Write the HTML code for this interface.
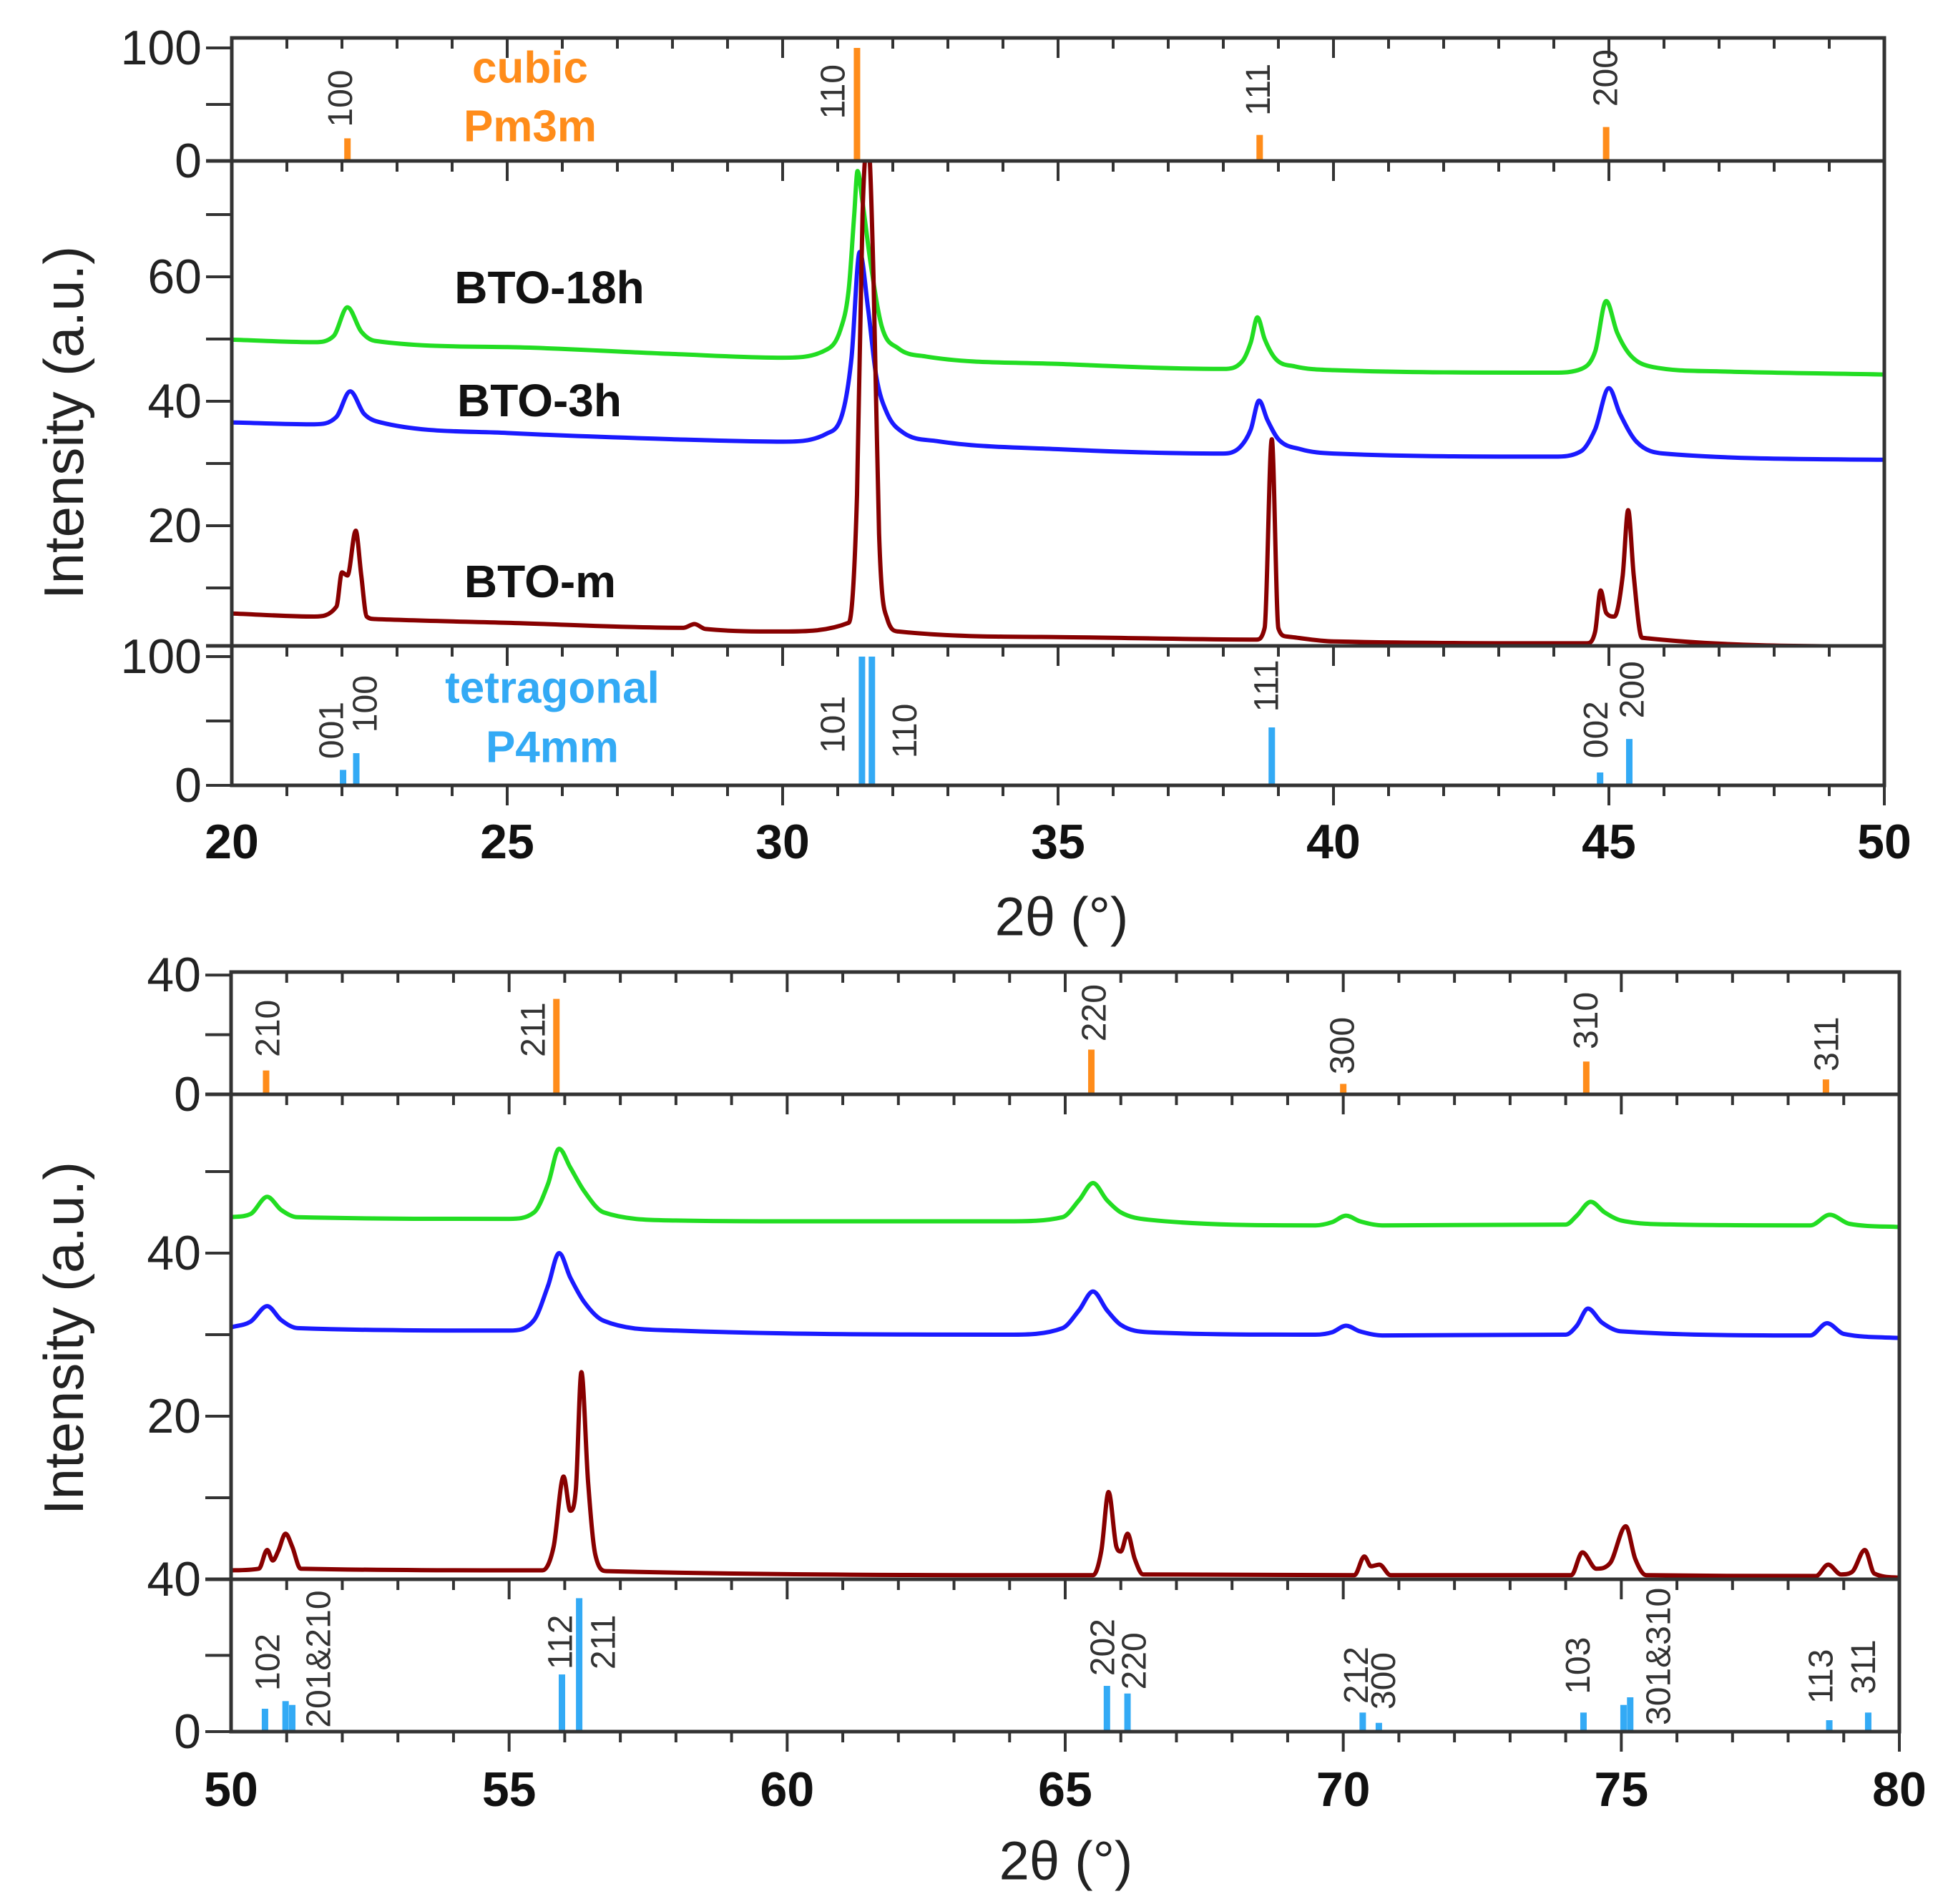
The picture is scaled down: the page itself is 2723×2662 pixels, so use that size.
<!DOCTYPE html>
<html><head><meta charset="utf-8"><style>
html,body{margin:0;padding:0;background:#fff;}
svg{display:block;font-family:"Liberation Sans",Arial,sans-serif;}
</style></head><body>
<svg id="chart" width="2723" height="2662" viewBox="0 0 2723 2662" xmlns="http://www.w3.org/2000/svg">
<rect width="2723" height="2662" fill="#fff"/>
<text x="89" y="591" font-size="78" fill="#222" text-anchor="middle" dominant-baseline="central" transform="rotate(-90 89 591)">Intensity (a.u.)</text>
<text x="89" y="1871" font-size="78" fill="#222" text-anchor="middle" dominant-baseline="central" transform="rotate(-90 89 1871)">Intensity (a.u.)</text>
<text x="1484" y="1282" font-size="76" fill="#222" text-anchor="middle" dominant-baseline="central">2θ (°)</text>
<text x="1490" y="2602" font-size="76" fill="#222" text-anchor="middle" dominant-baseline="central">2θ (°)</text>
<text x="768" y="402" font-size="64" font-weight="bold" fill="#111" text-anchor="middle" dominant-baseline="central">BTO-18h</text>
<text x="754" y="560" font-size="64" font-weight="bold" fill="#111" text-anchor="middle" dominant-baseline="central">BTO-3h</text>
<text x="755" y="813" font-size="64" font-weight="bold" fill="#111" text-anchor="middle" dominant-baseline="central">BTO-m</text>
<text x="741" y="95" font-size="62" font-weight="bold" fill="#ff8c1a" text-anchor="middle" dominant-baseline="central">cubic</text>
<text x="741" y="177" font-size="62" font-weight="bold" fill="#ff8c1a" text-anchor="middle" dominant-baseline="central">Pm3m</text>
<text x="772" y="962" font-size="62" font-weight="bold" fill="#33aaf5" text-anchor="middle" dominant-baseline="central">tetragonal</text>
<text x="772" y="1045" font-size="62" font-weight="bold" fill="#33aaf5" text-anchor="middle" dominant-baseline="central">P4mm</text>
</svg>
<script>
// ---------- DATA: top panel (20-50) ----------
const g1X=[20,21.5,21.85,22.1,22.35,22.6,25,28,30,30.8,31.05,31.2,31.3,31.36,31.45,31.6,31.8,32.1,32.6,35,38,38.35,38.5,38.62,38.75,38.95,39.3,40,44,44.5,44.75,44.95,45.15,45.4,45.8,47,50];
const g1Y=[49.9,49.5,50.5,55.1,51.2,49.7,48.7,47.6,47.0,48.3,51.5,58,70,77,72,62,52,48.5,47.2,46.0,45.2,46.5,49.5,53.5,50,46.8,45.6,45,44.6,45.2,48,56.1,51,47.3,45.5,44.8,44.3];
const b1X=[20,21.5,21.9,22.15,22.4,22.7,25,28,30,30.8,31.1,31.25,31.4,31.55,31.7,31.9,32.2,32.8,35,38,38.3,38.5,38.65,38.8,39.0,39.4,40,44,44.5,44.75,45.0,45.2,45.5,46,50];
const b1Y=[36.6,36.3,37.5,41.6,38,36.6,34.9,33.9,33.5,34.8,38.5,47,64,55,44,38,34.9,33.6,32.3,31.6,32.6,35.5,40.1,37,33.9,32.3,31.6,31.1,32,35.5,42.1,38,33.5,31.6,30.6];
const r1X=[20,21.5,21.9,22.0,22.1,22.25,22.35,22.45,22.6,25,28.2,28.4,28.6,30,31.2,31.35,31.45,31.55,31.65,31.75,31.9,32.1,35,38.6,38.75,38.88,39.0,39.15,40,44.6,44.75,44.85,44.95,45.1,45.25,45.35,45.45,45.6,50];
const r1Y=[5.9,5.4,7,12.5,12,19.2,12,5.4,5,4.4,3.6,4.2,3.4,3.0,4.4,25,70,82,60,18.7,5,3,2.1,1.7,3.6,33.9,3.5,2.2,1.4,1.1,3,9.6,6,5.4,12,22.5,12,2,0.6];
const cub1Pos=[22.1,31.35,38.66,44.95];
const cub1H=[20,100,23,30];
const cub1Lbl=["100","110","111","200"];
const cub1LblPos=[21.98,30.92,38.64,44.95];
const cub1LblBase=[30,37,40,48];
const tet1Pos=[22.02,22.26,31.44,31.62,38.88,44.84,45.37];
const tet1H=[12,25,100,100,45,10,36];
const tet1Lbl=["001","100","101","110","111","002","200"];
const tet1LblPos=[21.82,22.43,30.92,32.23,38.79,44.77,45.43];
const tet1LblBase=[20.5,41,25,21,57,21,52];
// ---------- DATA: bottom panel (50-80) ----------
const g2X=[50,50.35,50.65,50.9,51.2,55,55.45,55.7,55.9,56.1,56.35,56.7,58,60,64,64.95,65.25,65.5,65.75,66.0,66.5,69.5,69.8,70.05,70.3,70.7,74,74.2,74.45,74.7,75,76,78.4,78.75,79.1,80];
const g2Y=[44.4,44.8,46.9,45.3,44.4,44.2,45,48.5,52.8,50.5,47.6,45,44.0,43.9,43.9,44.4,46.5,48.6,46.5,45,44.1,43.4,43.8,44.6,43.9,43.4,43.5,44.6,46.3,45,44,43.5,43.4,44.7,43.6,43.2];
const b2X=[50,50.35,50.65,50.9,51.2,55,55.45,55.7,55.9,56.1,56.35,56.7,58,64,64.95,65.25,65.5,65.75,66.0,66.5,69.5,69.8,70.05,70.3,70.7,74,74.2,74.4,74.65,75,78.4,78.7,79.0,80];
const b2Y=[30.9,31.6,33.5,31.8,30.8,30.5,31.8,36,40,37,34,31.7,30.5,30,30.8,33,35.3,33,31.2,30.3,30,30.3,31.1,30.4,29.9,30,31.1,33.2,31.5,30.4,29.9,31.4,30.1,29.6];
const r2X=[50,50.5,50.65,50.75,50.85,50.98,51.1,51.25,55.6,55.8,55.98,56.1,56.2,56.3,56.42,56.55,56.75,65.5,65.65,65.78,65.92,66.0,66.12,66.25,66.4,70.2,70.38,70.5,70.65,70.85,74.1,74.3,74.55,74.8,75.08,75.25,75.45,78.5,78.72,78.95,79.15,79.38,79.55,80];
const r2Y=[1.1,1.3,3.6,2.3,3.5,5.6,4,1.3,1.1,4,12.6,8.4,11,25.4,12,3,1,0.5,3.5,10.7,4,3.4,5.6,2.5,0.6,0.5,2.8,1.6,1.8,0.5,0.5,3.3,1.3,2,6.5,2.5,0.5,0.4,1.8,0.6,0.9,3.6,0.7,0.2];
const cub2Pos=[50.63,55.85,65.47,70.0,74.37,78.68];
const cub2H=[8,32,15,3.5,11,5];
const cub2Lbl=["210","211","220","300","310","311"];
const cub2LblPos=[50.67,55.44,65.53,69.99,74.37,78.7];
const cub2LblBase=[12.5,12.5,17.7,6.7,15.1,7.7];
const tet2Pos=[50.61,50.98,51.1,55.95,56.26,65.75,66.12,70.35,70.64,74.32,75.04,75.16,78.74,79.44];
const tet2H=[6,8,7,15,35,12,10,5,2.3,5,7,9,3,5];
const tet2Lbl=["102","201&210","112","211","202","220","212","300","103","301&310","113","311"];
const tet2LblPos=[50.67,51.58,55.93,56.7,65.68,66.25,70.24,70.73,74.23,75.68,78.6,79.36];
const tet2LblBase=[10.7,1,16.3,16.3,14.6,11,7.3,5.8,9.8,1.7,7.3,9.8];
const xTicks1=["20","25","30","35","40","45","50"];
const xTicks2=["50","55","60","65","70","75","80"];

// ---------- LAYOUT ----------
const NS="http://www.w3.org/2000/svg";
const svg=document.getElementById('chart');
function el(tag,attrs,parent){const e=document.createElementNS(NS,tag);for(const k in attrs)e.setAttribute(k,attrs[k]);(parent||svg).appendChild(e);return e;}
// monotone cubic path through pixel points
function monoPath(px,py){
  const n=px.length,d=[],m=new Array(n);
  for(let i=0;i<n-1;i++)d.push((py[i+1]-py[i])/(px[i+1]-px[i]));
  m[0]=d[0];m[n-1]=d[n-2];
  for(let i=1;i<n-1;i++){m[i]=(d[i-1]*d[i]<=0)?0:(d[i-1]+d[i])/2;}
  for(let i=0;i<n-1;i++){if(d[i]===0){m[i]=0;m[i+1]=0;continue;}
    const a=m[i]/d[i],b=m[i+1]/d[i],s=a*a+b*b;if(s>9){const t=3/Math.sqrt(s);m[i]=t*a*d[i];m[i+1]=t*b*d[i];}}
  let p='M'+px[0].toFixed(1)+','+py[0].toFixed(1);
  for(let i=0;i<n-1;i++){const h=(px[i+1]-px[i])/3;
    p+='C'+(px[i]+h).toFixed(1)+','+(py[i]+m[i]*h).toFixed(1)+' '+(px[i+1]-h).toFixed(1)+','+(py[i+1]-m[i+1]*h).toFixed(1)+' '+px[i+1].toFixed(1)+','+py[i+1].toFixed(1);}
  return p;
}
const AX="#333";
const panels=[
 {x0:324,x1:2634,xmin:20,xmax:50,top:53,cb:225,cs:1.58,mz:909,ms:8.7,mb:903,tz:1098,ts:1.8,
  cubTicks:[0,50,100],cubLbl:{0:"0",100:"100"},mainTicks:[10,20,30,40,50,60,70],mainLbl:{20:"20",40:"40",60:"60"},
  tetTicks:[0,50,100],tetLbl:{0:"0",100:"100"},xt:xTicks1,xly:1177,
  series:[[g1X,g1Y,"#22dd22","green-18h"],[b1X,b1Y,"#1a1aff","blue-3h"],[r1X,r1Y,"#880000","brown-m"]],
  cub:[cub1Pos,cub1H,cub1Lbl,cub1LblPos,cub1LblBase],tet:[tet1Pos,tet1H,tet1Lbl,tet1LblPos,tet1LblBase],name:"top"},
 {x0:323,x1:2655,xmin:50,xmax:80,top:1359,cb:1530,cs:4.17,mz:2208,ms:11.4,mb:2208,tz:2421,ts:5.33,
  cubTicks:[0,20,40],cubLbl:{0:"0",40:"40"},mainTicks:[10,20,30,40,50],mainLbl:{20:"20",40:"40"},
  tetTicks:[0,20,40],tetLbl:{0:"0",40:"40"},xt:xTicks2,xly:2502,
  series:[[g2X,g2Y,"#22dd22","green-18h"],[b2X,b2Y,"#1a1aff","blue-3h"],[r2X,r2Y,"#880000","brown-m"]],
  cub:[cub2Pos,cub2H,cub2Lbl,cub2LblPos,cub2LblBase],tet:[tet2Pos,tet2H,tet2Lbl,tet2LblPos,tet2LblBase],name:"bottom"}
];
panels.forEach((p,pi)=>{
  const sx=v=>p.x0+(v-p.xmin)*(p.x1-p.x0)/(p.xmax-p.xmin);
  const yc=v=>p.cb-v*p.cs, ym=v=>p.mz-v*p.ms, yt=v=>p.tz-v*p.ts;
  const g=el('g',{});
  
  
  const cp=el('clipPath',{id:'clip'+pi},g);
  el('rect',{x:p.x0,y:p.cb,width:p.x1-p.x0,height:p.mb-p.cb},cp);
  p.series.forEach(s=>{
    const [X,Y,c,n]=s;
    const d=monoPath(X.map(sx),Y.map(ym));
    const path=el('path',{d:d,fill:'none',stroke:c,'stroke-width':6,'stroke-linejoin':'round','clip-path':'url(#clip'+pi+')'},g);
    
    
  });
  const drawSticks=(arr,base,scale,color,kind)=>{
    const [P,H,L,LP,LB]=arr;
    P.forEach((x,i)=>{
      const r=el('rect',{x:sx(x)-4.5,y:base-H[i]*scale,width:9,height:H[i]*scale,fill:color},g);
      
      
    });
    L.forEach((t,i)=>{
      const lx=sx(LP[i]),ly=base-LB[i]*scale;
      const tx=el('text',{x:lx,y:ly,'font-size':48,fill:'#333','dominant-baseline':'central',transform:'rotate(-90 '+lx+' '+ly+')'},g);
      tx.textContent=t;
      
      
    });
  };
  drawSticks(p.cub,p.cb,p.cs,'#ff8c1a','cubic');
  drawSticks(p.tet,p.tz,p.ts,'#33aaf5','tetragonal');
  const line=(x1,y1,x2,y2,w)=>el('line',{x1,y1,x2,y2,stroke:AX,'stroke-width':w||5},g);
  el('rect',{x:p.x0,y:p.top,width:p.x1-p.x0,height:p.tz-p.top,fill:'none',stroke:AX,'stroke-width':5},g);
  line(p.x0-36,p.cb,p.x1,p.cb);
  line(p.x0-36,p.mb,p.x1,p.mb);
  [p.top,p.cb,p.mb,p.tz].forEach(yy=>{
    for(let v=p.xmin+1;v<=p.xmax;v++){
      const len=(v%5===0)?28:15;const x=sx(v);
      line(x,yy,x,yy+len,4);
    }
  });
  const yt_=(vals,f,lbls)=>{vals.forEach(v=>{const y=f(v);line(p.x0-36,y,p.x0,y,4);
     if(lbls[v]!==undefined){const t=el('text',{x:p.x0-42,y:y,'font-size':68,fill:'#222','text-anchor':'end','dominant-baseline':'central'},g);t.textContent=lbls[v];
       
       }});};
  yt_(p.cubTicks,yc,p.cubLbl);
  yt_(p.mainTicks,ym,p.mainLbl);
  yt_(p.tetTicks,yt,p.tetLbl);
  p.xt.forEach(t=>{
    const v=parseFloat(t);
    const tx=el('text',{x:sx(v),y:p.xly,'font-size':68,'font-weight':'bold',fill:'#111','text-anchor':'middle','dominant-baseline':'central'},g);
    tx.textContent=t;
    
    
  });
});
</script>
</body></html>
